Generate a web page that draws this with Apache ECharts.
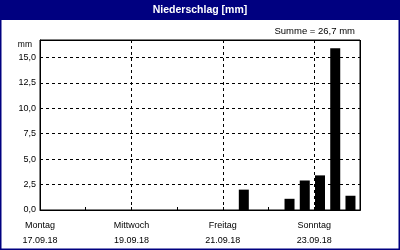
<!DOCTYPE html>
<html><head><meta charset="utf-8">
<script src="https://cdn.jsdelivr.net/npm/echarts@6/dist/echarts.min.js"></script>
<style>html,body{margin:0;padding:0;background:#fff}#c{width:400px;height:250px}</style>
</head><body><div id="c"></div>
<script>
// Data
var startDate = '17.09.18 00:00';
var endDate = '24.09.18 00:00';
var barTimes = ['21.09.18 11:00', '22.09.18 11:00', '22.09.18 19:00', '23.09.18 03:00', '23.09.18 11:00', '23.09.18 19:00'];
var barValues = [2.0, 1.1, 2.9, 3.4, 15.9, 1.4];
var dayLabels = ['Montag\n17.09.18', 'Mittwoch\n19.09.18', 'Freitag\n21.09.18', 'Sonntag\n23.09.18'];
var yTicks = ['0,0', '2,5', '5,0', '7,5', '10,0', '12,5', '15,0'];
var titleText = 'Niederschlag [mm]';
var sumText = 'Summe = 26,7 mm';
var unitText = 'mm';

function parseT(s) {
  var p = s.split(' '), d = p[0].split('.'), t = p[1].split(':');
  return Date.UTC(2000 + +d[2], +d[1] - 1, +d[0], +t[0], +t[1]) / 3600000;
}
var t0 = parseT(startDate);
var tMax = parseT(endDate) - t0;
var data = barTimes.map(function (t, i) { return [parseT(t) - t0, barValues[i]]; });

var FONT = 'Liberation Sans';
var chart = echarts.init(document.getElementById('c'), null, {renderer: 'canvas'});
chart.setOption({
  animation: false,
  backgroundColor: '#fff',
  textStyle: {fontFamily: FONT},
  grid: {left: 40, right: 40, top: 40, bottom: 40, show: true, borderColor: '#000', borderWidth: 1, backgroundColor: '#fff'},
  xAxis: [{
    type: 'value', min: 0, max: tMax, interval: 48,
    axisLine: {show: true, lineStyle: {color: '#000', width: 1}},
    axisTick: {show: false},
    splitLine: {show: true, lineStyle: {color: '#000', type: [3, 3], width: 1}},
    axisLabel: {
      color: '#000', fontSize: 9, fontFamily: FONT, lineHeight: 15, margin: 8,
      formatter: function (v) { var i = Math.round(v / 48); return (v % 48 === 0 && i < dayLabels.length) ? dayLabels[i] : ''; }
    }
  }, {
    type: 'value', min: 0, max: tMax, interval: 24, position: 'bottom',
    axisLine: {show: false}, axisLabel: {show: false}, splitLine: {show: false},
    axisTick: {show: true, inside: true, length: 3, lineStyle: {color: '#000'}}
  }],
  yAxis: {
    type: 'value', min: 0, max: 16.7, interval: 2.5,
    axisLine: {show: true, lineStyle: {color: '#000'}},
    axisTick: {show: false},
    splitLine: {show: true, lineStyle: {color: '#000', type: [3, 3], width: 1}},
    axisLabel: {
      color: '#000', fontSize: 9, fontFamily: FONT, margin: 4,
      formatter: function (v) { var i = Math.round(v / 2.5); return (Math.abs(v - i * 2.5) < 1e-6 && i < yTicks.length) ? yTicks[i] : ''; }
    }
  },
  series: [{
    type: 'bar', xAxisIndex: 0, data: data, barWidth: 10,
    itemStyle: {color: '#000'}
  }],
  graphic: [
    {type: 'rect', shape: {x: 0, y: 0, width: 400, height: 20}, style: {fill: '#000080'}, silent: true},
    {type: 'rect', shape: {x: 0.75, y: 0.75, width: 398.5, height: 248.5}, style: {fill: null, stroke: '#000080', lineWidth: 1.5}, silent: true},
    {type: 'rect', z: 100, shape: {x: 40.5, y: 40.5, width: 320, height: 170}, style: {fill: null, stroke: '#000', lineWidth: 1}, silent: true},
    {type: 'text', x: 200, y: 10, style: {text: titleText, fill: '#fff', font: 'bold 10.5px "' + FONT + '"', align: 'center', verticalAlign: 'middle'}},
    {type: 'text', x: 355, y: 31, style: {text: sumText, fill: '#000', font: '9.5px "' + FONT + '"', align: 'right', verticalAlign: 'middle'}},
    {type: 'text', x: 32, y: 45, style: {text: unitText, fill: '#000', font: '8.5px "' + FONT + '"', align: 'right', verticalAlign: 'middle'}}
  ]
});
</script></body></html>
